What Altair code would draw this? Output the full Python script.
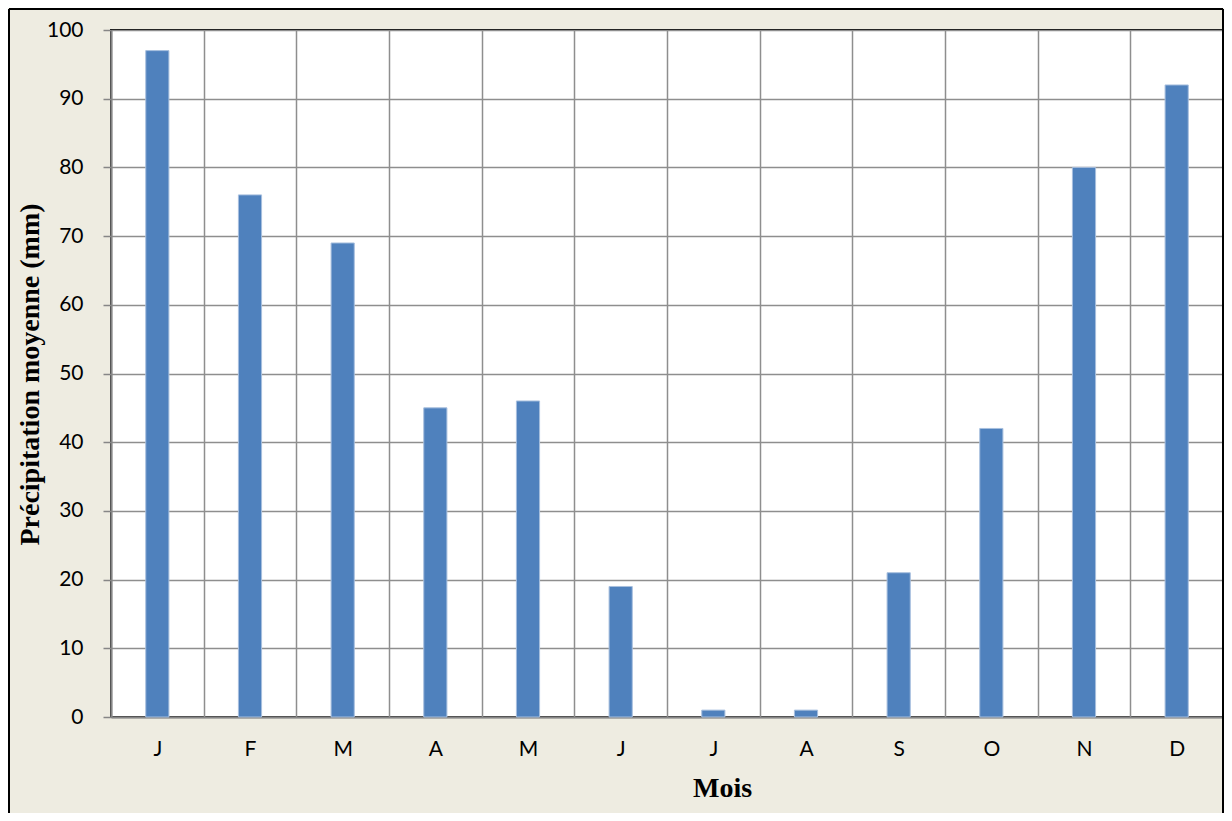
import json
import altair as alt
import pandas as pd

# Data
month_labels = ["J", "F", "M", "A", "M", "J", "J", "A", "S", "O", "N", "D"]
month_index = list(range(12))
precip_mm = [97, 76, 69, 45, 46, 19, 1, 1, 21, 42, 80, 92]
y_ticks = [0, 10, 20, 30, 40, 50, 60, 70, 80, 90, 100]

df = pd.DataFrame({"idx": month_index, "mois": month_labels, "precip": precip_mm})

W, H = 1112, 687
GRID = "#8E8E8E"

label_expr = json.dumps(month_labels) + "[datum.value]"

bars = alt.Chart(df).mark_bar(
    width=alt.RelativeBandSize(band=0.25),
    color="#4F81BD",
    stroke="#A7BFDE",
    strokeWidth=1,
).encode(
    x=alt.X(
        "idx:O",
        scale=alt.Scale(paddingInner=0, paddingOuter=0),
        axis=alt.Axis(
            title="Mois",
            labelExpr=label_expr,
            labelAngle=0,
            labelFont="Lato",
            labelFontSize=21,
            labelColor="#000000",
            labelBaseline="middle",
            labelPadding=32,
            ticks=False,
            tickSize=0,
            grid=True,
            tickBand="extent",
            gridColor=GRID,
            gridWidth=1.5,
            domainColor="#868686",
            domainWidth=2,
            titleFont="Liberation Serif",
            titleFontWeight="bold",
            titleFontSize=28,
            titleColor="#000000",
            titleX=611,
            titleY=71,
            titleAlign="center",
            titleBaseline="middle",
        ),
    ),
    y=alt.Y(
        "precip:Q",
        scale=alt.Scale(domain=[0, 100], nice=False),
        axis=alt.Axis(
            title="Précipitation moyenne (mm)",
            values=y_ticks,
            labelFont="Lato",
            labelFontSize=21,
            labelColor="#000000",
            labelPadding=20,
            ticks=True,
            tickSize=8,
            tickColor="#868686",
            tickWidth=1.5,
            grid=True,
            gridColor=GRID,
            gridWidth=1.5,
            domainColor="#868686",
            domainWidth=2,
            titleFont="Liberation Serif",
            titleFontWeight="bold",
            titleFontSize=28,
            titleColor="#000000",
            titleAngle=-90,
            titleX=-81,
            titleY=344,
            titleAlign="center",
            titleBaseline="middle",
        ),
    ),
)

one = pd.DataFrame({"a": [0]})
frame_left = alt.Chart(one).mark_rule(color="#000000", strokeWidth=2).encode(
    x=alt.value(-102), y=alt.value(-21), y2=alt.value(H + 120)
)
frame_top = alt.Chart(one).mark_rule(color="#000000", strokeWidth=2).encode(
    x=alt.value(-102), x2=alt.value(W), y=alt.value(-21)
)
frame_right = alt.Chart(one).mark_rule(color="#000000", strokeWidth=2).encode(
    x=alt.value(W), y=alt.value(-21), y2=alt.value(H + 120)
)

chart = (
    alt.layer(bars, frame_left, frame_top, frame_right)
    .properties(
        width=W,
        height=H,
        autosize=alt.AutoSizeParams(type="none"),
        padding={"left": 103, "top": 22, "right": 1, "bottom": 96},
        background="#EEECE1",
    )
    .configure_view(stroke="#000000", strokeWidth=2, fill="#FFFFFF")
)

chart.save("out.html", embed_options={"renderer": "svg", "actions": False})
